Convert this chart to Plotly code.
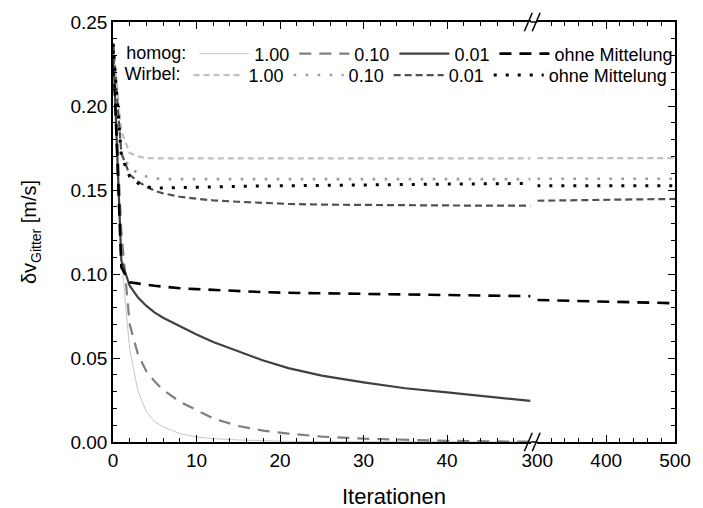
import plotly.graph_objects as go

# Iteration grids for the two parts of the broken x axis
iter_left = [0, 1, 2, 3, 4, 5, 6, 8, 10, 12, 15, 18, 21, 25, 30, 35, 40, 45, 50]
iter_right = [300, 350, 400, 450, 500]

# homogeneous flow, averaging factor 1.00 / 0.10 / 0.01 / without averaging
homog_100 = [0.237, 0.110, 0.055, 0.030, 0.018, 0.012, 0.009, 0.005, 0.003, 0.002,
             0.0012, 0.0007, 0.0004, 0.0002, 0.0001, 0.0, 0.0, 0.0, 0.0]
homog_010 = [0.237, 0.125, 0.070, 0.052, 0.042, 0.036, 0.031, 0.024, 0.019, 0.014,
             0.0095, 0.0068, 0.005, 0.0032, 0.002, 0.0012, 0.0007, 0.0004, 0.0002]
homog_001 = [0.237, 0.108, 0.093, 0.086, 0.081, 0.077, 0.074, 0.069, 0.064, 0.0595,
             0.054, 0.0485, 0.044, 0.0395, 0.0355, 0.032, 0.0295, 0.027, 0.0245]
homog_ohne = [0.237, 0.104, 0.095, 0.0942, 0.0935, 0.093, 0.0925, 0.0915, 0.091, 0.0905,
              0.0897, 0.0892, 0.0888, 0.0885, 0.0882, 0.0878, 0.0875, 0.0871, 0.0868]
homog_ohne_r = [0.0845, 0.0840, 0.0836, 0.0831, 0.0826]

# vortex flow
wirbel_100 = [0.237, 0.185, 0.172, 0.170, 0.169, 0.1688, 0.1688, 0.1688, 0.1688, 0.1688,
              0.1688, 0.1688, 0.1688, 0.1688, 0.1688, 0.1688, 0.1688, 0.1688, 0.1688]
wirbel_100_r = [0.1690, 0.1690, 0.1690, 0.1690, 0.1690]
wirbel_010 = [0.237, 0.172, 0.163, 0.160, 0.158, 0.157, 0.1565, 0.1565, 0.1565, 0.1565,
              0.1565, 0.1565, 0.1565, 0.1565, 0.1565, 0.1565, 0.1565, 0.1565, 0.1565]
wirbel_010_r = [0.1567, 0.1567, 0.1567, 0.1567, 0.1567]
wirbel_001 = [0.237, 0.172, 0.159, 0.155, 0.152, 0.1495, 0.148, 0.146, 0.1448, 0.1438,
              0.143, 0.1422, 0.1417, 0.1413, 0.141, 0.1409, 0.1408, 0.1407, 0.1407]
wirbel_001_r = [0.1436, 0.1439, 0.1442, 0.1445, 0.1447]
wirbel_ohne = [0.237, 0.170, 0.158, 0.154, 0.152, 0.151, 0.1512, 0.1515, 0.1518, 0.152,
               0.1522, 0.1524, 0.1526, 0.1528, 0.153, 0.1533, 0.1535, 0.1537, 0.1539]
wirbel_ohne_r = [0.1525, 0.1525, 0.1525, 0.1525, 0.1525]

labels = ["1.00", "0.10", "0.01", "ohne Mittelung"]
y_ticks = [0.0, 0.05, 0.10, 0.15, 0.20, 0.25]
x_ticks_left = [0, 10, 20, 30, 40]
x_ticks_right = [300, 400, 500]

FONT = "Liberation Sans, Arial, sans-serif"

styles_homog = [
    dict(color="#c8c8c8", width=1, dash="solid"),
    dict(color="#808080", width=2.2, dash="12px,8px"),
    dict(color="#404040", width=2.2, dash="solid"),
    dict(color="#000000", width=2.6, dash="12px,8px"),
]
styles_wirbel = [
    dict(color="#c0c0c0", width=2.2, dash="6px,4px"),
    dict(color="#9a9a9a", width=2.6, dash="2.6px,9.4px"),
    dict(color="#505050", width=2.2, dash="7px,4px"),
    dict(color="#000000", width=3, dash="3px,9px"),
]

fig = go.Figure()

homog_left = [homog_100, homog_010, homog_001, homog_ohne]
for lab, ys, st in zip(labels, homog_left, styles_homog):
    fig.add_trace(go.Scatter(x=iter_left, y=ys, mode="lines", name=lab, line=st,
                             legend="legend", xaxis="x", yaxis="y"))
fig.add_trace(go.Scatter(x=iter_right, y=homog_ohne_r, mode="lines", line=styles_homog[3],
                         showlegend=False, xaxis="x2", yaxis="y2"))

wirbel_left = [wirbel_100, wirbel_010, wirbel_001, wirbel_ohne]
wirbel_right = [wirbel_100_r, wirbel_010_r, wirbel_001_r, wirbel_ohne_r]
for lab, ys, yr, st in zip(labels, wirbel_left, wirbel_right, styles_wirbel):
    fig.add_trace(go.Scatter(x=iter_left, y=ys, mode="lines", name=lab, line=st,
                             legend="legend2", xaxis="x", yaxis="y"))
    fig.add_trace(go.Scatter(x=iter_right, y=yr, mode="lines", line=st,
                             showlegend=False, xaxis="x2", yaxis="y2"))

d_left = 0.743
d_right = 0.755

axis_common = dict(showline=True, linecolor="black", linewidth=1.5, ticks="inside",
                   ticklen=7, tickwidth=1.3, tickcolor="black", showgrid=False,
                   zeroline=False, tickfont=dict(family=FONT, size=19, color="black"))

LEG_FONT = dict(family=FONT, size=18, color="black")

fig.update_layout(
    width=703, height=508,
    margin=dict(l=113, r=18, t=19, b=66),
    paper_bgcolor="white", plot_bgcolor="white",
    font=dict(family=FONT, color="black"),
    xaxis=dict(domain=[0, d_left], range=[0, 50], tickvals=x_ticks_left, mirror="ticks",
               minor=dict(dtick=2, ticks="inside", ticklen=4, tickcolor="black"),
               anchor="y", **axis_common),
    xaxis2=dict(domain=[d_right, 1], range=[300, 500], tickvals=x_ticks_right, mirror="ticks",
                minor=dict(dtick=20, ticks="inside", ticklen=4, tickcolor="black"),
                anchor="y2", **axis_common),
    yaxis=dict(domain=[0, 1], range=[0, 0.25], tickvals=y_ticks, tickformat=".2f",
               minor=dict(dtick=0.01, ticks="inside", ticklen=4, tickcolor="black"),
               anchor="x", side="left",
               title=dict(text="δv<sub>Gitter</sub> [m/s]", font=dict(size=20), standoff=28),
               **axis_common),
    yaxis2=dict(domain=[0, 1], range=[0, 0.25], matches="y", tickvals=y_ticks,
                showticklabels=False,
                minor=dict(dtick=0.01, ticks="inside", ticklen=4, tickcolor="black"),
                anchor="x2", side="right", **axis_common),
    legend=dict(title=dict(text="homog:", side="left", font=LEG_FONT),
                orientation="h", x=0.020, y=0.968, xanchor="left", yanchor="top",
                bgcolor="rgba(0,0,0,0)", font=LEG_FONT, itemwidth=50,
                traceorder="normal"),
    legend2=dict(title=dict(text="Wirbel:", side="left", font=LEG_FONT),
                 orientation="h", x=0.017, y=0.917, xanchor="left", yanchor="top",
                 bgcolor="rgba(0,0,0,0)", font=LEG_FONT, itemwidth=50,
                 traceorder="normal"),
)

# x axis title centred below the whole broken axis
fig.add_annotation(text="Iterationen", xref="paper", yref="paper", x=0.5, y=0,
                   yshift=-54, showarrow=False, font=dict(size=22), yanchor="middle")

# axis line across the break, bottom and top
for yy in (0, 1):
    fig.add_shape(type="line", xref="paper", yref="paper", x0=d_left, x1=d_right,
                  y0=yy, y1=yy, line=dict(color="black", width=1.5))

# break marks "//"
for yy in (0, 1):
    for xc in (d_left - 0.004, d_left + 0.010):
        fig.add_shape(type="line", xref="paper", yref="paper",
                      x0=xc - 0.007, x1=xc + 0.007, y0=yy - 0.022, y1=yy + 0.022,
                      line=dict(color="black", width=1.5))

fig.write_html("out.html")
